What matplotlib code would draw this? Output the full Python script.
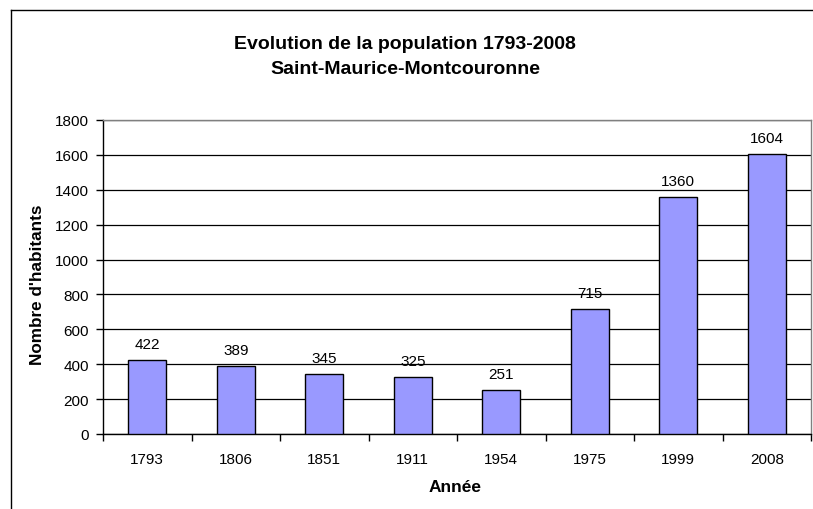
import matplotlib
matplotlib.use("Agg")
import matplotlib.pyplot as plt
from matplotlib.lines import Line2D

plt.rcParams['font.family'] = ['Liberation Sans', 'DejaVu Sans']

years = ["1793", "1806", "1851", "1911", "1954", "1975", "1999", "2008"]
population = [422, 389, 345, 325, 251, 715, 1360, 1604]
yticks = [0, 200, 400, 600, 800, 1000, 1200, 1400, 1600, 1800]

W, H = 813, 510
fig = plt.figure(figsize=(W / 100, H / 100), dpi=100)
ax = fig.add_axes([103 / W, 1 - 435 / H, (811 - 103) / W, (435 - 121) / H])

x = list(range(len(years)))
bars = ax.bar(x, population, width=0.43, color="#9999FF", edgecolor="black", linewidth=1.0, zorder=3)
ax.set_xlim(-0.5, len(years) - 0.5)
ax.set_ylim(0, 1800)
ax.set_yticks(yticks)
ax.set_yticklabels([str(v) for v in yticks], fontsize=11)
ax.set_xticks(x)
ax.set_xticklabels(years, fontsize=11)
ax.tick_params(axis='x', length=0, pad=13)
ax.tick_params(axis='y', length=5, direction='out', pad=5, width=1)
# category boundary ticks
ax.set_xticks([i - 0.5 for i in range(len(years) + 1)], minor=True)
ax.tick_params(axis='x', which='minor', length=5, direction='out', width=1)

ax.yaxis.grid(True, color="black", linewidth=0.9, zorder=0)
ax.set_axisbelow(True)
for s in ['top', 'right']:
    ax.spines[s].set_color('#808080')
    ax.spines[s].set_linewidth(1)
for s in ['left', 'bottom']:
    ax.spines[s].set_color('black')
    ax.spines[s].set_linewidth(1)

for xi, v in zip(x, population):
    ax.annotate(str(v), (xi, v), xytext=(0, 8.6), textcoords='offset points',
                ha='center', va='baseline', fontsize=11)

ax.set_ylabel("Nombre d'habitants", fontsize=12.3, fontweight='bold')
ax.yaxis.set_label_coords((38 - 103) / (811 - 103), (435 - 285) / (435 - 121))
ax.yaxis.label.set_va('center')
ax.set_xlabel("Année", fontsize=12.5, fontweight='bold')
ax.xaxis.set_label_coords((455 - 103) / (811 - 103), -(488 - 435) / (435 - 121))
ax.xaxis.label.set_va('center')

fig.text(405 / W, 1 - 49 / H, "Evolution de la population 1793-2008",
         ha='center', va='baseline', fontsize=14, fontweight='bold')
fig.text(405 / W, 1 - 74.5 / H, "Saint-Maurice-Montcouronne",
         ha='center', va='baseline', fontsize=14, fontweight='bold')

# chart area border (left and top visible)
fig.add_artist(Line2D([10.5 / W, 10.5 / W], [0, 1 - 11 / H], transform=fig.transFigure, color='black', linewidth=1))
fig.add_artist(Line2D([10.5 / W, 1], [1 - 11 / H, 1 - 11 / H], transform=fig.transFigure, color='black', linewidth=1))

fig.savefig("out.png", dpi=100)
